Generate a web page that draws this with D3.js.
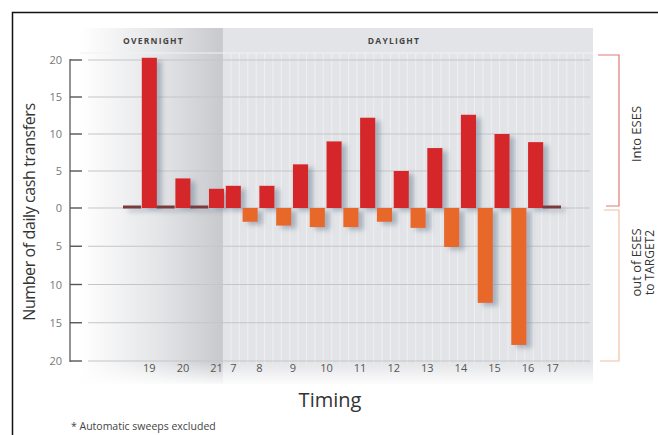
<!DOCTYPE html>
<html><head><meta charset="utf-8">
<script src="https://cdn.jsdelivr.net/npm/d3@7/dist/d3.min.js"></script>
<style>body{margin:0;background:#fff}svg{display:block}text{font-family:"Open Sans",sans-serif}</style>
</head><body><svg id="c" width="658" height="435"></svg>
<script>
// ---- data ----
const hours     = ["18","19","20","21","7","8","9","10","11","12","13","14","15","16","17"];
const intoESES  = [null, 20.3, 4, 2.6, 3, 3, 5.9, 9, 12.2, 5, 8.1, 12.6, 10, 8.9, 0.4];
const outOfESES = [0, 0, 0, null, 1.8, 2.3, 2.5, 2.5, 1.8, 2.6, 5.1, 12.4, 17.9, null, null];
const tickLabels = ["19","20","21","7","8","9","10","11","12","13","14","15","16","17"];
const yTicks = [20,15,10,5,0,-5,-10,-15,-20];
const periods = ["OVERNIGHT","DAYLIGHT"];

(function(){
const svg = d3.select("#c");
const defs = svg.append("defs");
const g1 = defs.append("linearGradient").attr("id","ov").attr("x1","0").attr("x2","1").attr("y1","0").attr("y2","0");
g1.append("stop").attr("offset","0").attr("stop-color","#ffffff");
g1.append("stop").attr("offset","0.55").attr("stop-color","#e4e5e7");
g1.append("stop").attr("offset","1").attr("stop-color","#c8c9cd");
const g2 = defs.append("linearGradient").attr("id","fadeB").attr("x1","0").attr("x2","0").attr("y1","0").attr("y2","1");
g2.append("stop").attr("offset","0").attr("stop-color","#fff").attr("stop-opacity",0);
g2.append("stop").attr("offset","1").attr("stop-color","#fff").attr("stop-opacity",0.9);
const f = defs.append("filter").attr("id","sh").attr("x","-50%").attr("y","-20%").attr("width","200%").attr("height","140%");
f.append("feDropShadow").attr("dx",5).attr("dy",3).attr("stdDeviation",2.4).attr("flood-color","#7f8fa0").attr("flood-opacity",0.6);

// frame
svg.append("rect").attr("x",12.5).attr("y",12.5).attr("width",700).attr("height",500)
  .attr("fill","none").attr("stroke","#111").attr("stroke-width",1.5);

// slots
const slots = [];
hours.forEach((h,i)=>{
  if (intoESES[i] !== null) slots.push({id:h+"i", hour:h, type:"in", v:intoESES[i]});
  if (outOfESES[i] !== null) slots.push({id:h+"o", hour:h, type:"out", v:outOfESES[i]});
});
const x = d3.scaleBand().domain(slots.map(d=>d.id)).range([125,560]).paddingInner(0.1).paddingOuter(0);
const y = d3.scaleLinear().domain([-20,0,20]).range([361,208,60]);

const pL = 80, pR = 593, pT = 28, pB = 384;
const split = x("7i") - (x.step() - x.bandwidth())/2 - 2;

// background panels
svg.append("rect").attr("x",split).attr("y",pT).attr("width",pR-split).attr("height",pB-pT).attr("fill","#e3e4e7");
svg.append("rect").attr("x",pL).attr("y",pT).attr("width",split-pL).attr("height",pB-pT).attr("fill","url(#ov)");
const stripeXs = d3.range(split+8, pR-4, x.step()/2);
svg.append("g").selectAll("line").data(stripeXs).join("line")
  .attr("x1",d=>d).attr("x2",d=>d).attr("y1",53).attr("y2",pB-20)
  .attr("stroke","#f4f5f7").attr("stroke-width",1).attr("opacity",0.7);
svg.append("line").attr("x1",pL).attr("x2",pR).attr("y1",53).attr("y2",53).attr("stroke","#f2f2f2").attr("stroke-width",1.2);
svg.append("rect").attr("x",pL).attr("y",pB-22).attr("width",pR-pL).attr("height",22).attr("fill","url(#fadeB)");

// header labels
svg.append("text").attr("x",(pL+split)/2+2).attr("y",44).attr("text-anchor","middle")
  .attr("font-size",8.5).attr("font-weight","bold").attr("letter-spacing",1.2).attr("fill","#444").text(periods[0]);
svg.append("text").attr("x",394).attr("y",44).attr("text-anchor","middle")
  .attr("font-size",8.5).attr("font-weight","bold").attr("letter-spacing",1.2).attr("fill","#444").text(periods[1]);

// grid lines
svg.append("g").selectAll("line").data(yTicks).join("line")
  .attr("x1",88).attr("x2",590).attr("y1",d=>y(d)).attr("y2",d=>y(d))
  .attr("stroke","#c4c5c8").attr("stroke-width",1);

// y axis
svg.append("line").attr("x1",70).attr("x2",70).attr("y1",y(20)-1).attr("y2",y(-20)+1).attr("stroke","#666").attr("stroke-width",1.4);
svg.append("g").selectAll("line").data(yTicks).join("line")
  .attr("x1",70).attr("x2",82).attr("y1",d=>y(d)).attr("y2",d=>y(d)).attr("stroke","#555").attr("stroke-width",1.4);
svg.append("g").selectAll("text").data(yTicks).join("text")
  .attr("x",62).attr("y",d=>y(d)+4).attr("text-anchor","end").attr("font-size",11).attr("fill","#777")
  .text(d=>Math.abs(d));
svg.append("text").attr("transform","translate(35,212) rotate(-90)").attr("text-anchor","middle")
  .attr("font-size",16).attr("fill","#333").attr("letter-spacing",-0.4).text("Number of daily cash transfers");

// bars
const bars = svg.append("g").attr("filter","url(#sh)");
bars.selectAll("rect").data(slots).join("rect")
  .attr("x",d=>x(d.id) - (d.v < 0.5 ? 2 : 0))
  .attr("width",d=>x.bandwidth() + (d.v < 0.5 ? 3 : 0))
  .attr("y",d=> d.v < 0.5 ? y(0)-2.5 : (d.type==="in" ? y(d.v) : y(0)))
  .attr("height",d=> d.v < 0.5 ? 3 : (d.type==="in" ? y(0)-y(d.v) : y(-d.v)-y(0)))
  .attr("fill",d=> d.v < 0.5 ? "#7a3a3c" : (d.type==="in" ? "#d5262b" : "#e8682c"));

// x tick labels
const labelX = h => {
  const idx = slots.findIndex(s=>s.hour===h && s.type==="in");
  const prev = slots[idx-1];
  return (prev && prev.type==="out" && prev.v >= 1) ? x(slots[idx].id) : x(slots[idx].id) + x.bandwidth()/2;
};
svg.append("g").selectAll("text").data(tickLabels).join("text")
  .attr("x",d=>labelX(d)).attr("y",372).attr("text-anchor","middle").attr("font-size",11).attr("fill","#555")
  .text(d=>d);

svg.append("text").attr("x",330).attr("y",407).attr("text-anchor","middle").attr("font-size",20).attr("fill","#333").text("Timing");
svg.append("text").attr("x",71).attr("y",430).attr("font-size",10.5).attr("fill","#444").text("* Automatic sweeps excluded");

// right brackets
const bx = 619;
svg.append("path").attr("d",`M${598},${y(20)-5}H${bx}V${y(0)-2}H${606}`).attr("fill","none").attr("stroke","#e07a78").attr("stroke-width",1.2);
svg.append("path").attr("d",`M${604},${y(0)+2}H${bx}V${y(-20)}H${600}`).attr("fill","none").attr("stroke","#f0c0a0").attr("stroke-width",1.2);
svg.append("text").attr("transform",`translate(641,${(y(20)+y(0))/2}) rotate(-90)`).attr("text-anchor","middle")
  .attr("font-size",13).attr("fill","#333").text("Into ESES");
svg.append("text").attr("transform",`translate(641,${(y(0)+y(-20))/2 - 22}) rotate(-90)`).attr("text-anchor","middle")
  .attr("font-size",13).attr("fill","#333").text("out of ESES");
svg.append("text").attr("transform",`translate(654,${(y(0)+y(-20))/2 - 22}) rotate(-90)`).attr("text-anchor","middle")
  .attr("font-size",12).attr("fill","#333").text("to TARGET2");
})();
</script></body></html>
